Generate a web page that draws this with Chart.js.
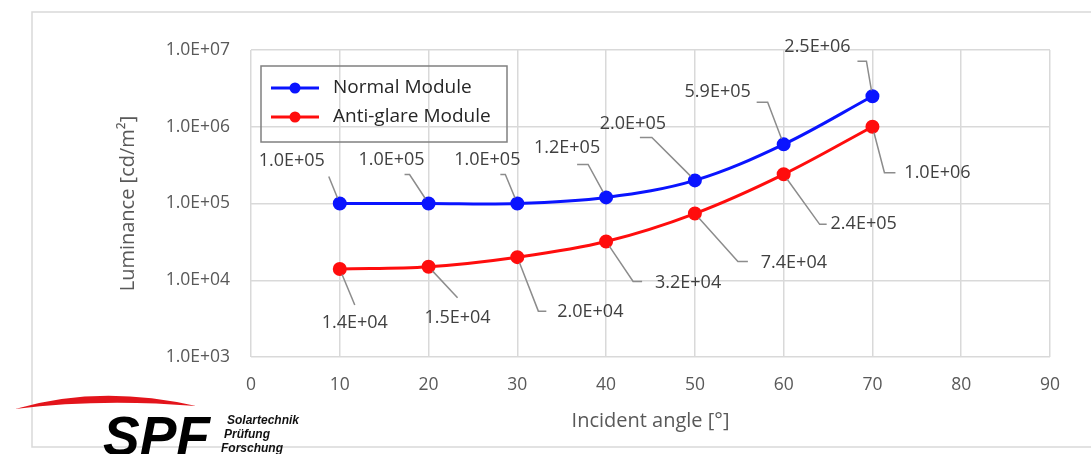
<!DOCTYPE html>
<html>
<head>
<meta charset="utf-8">
<script src="https://cdn.jsdelivr.net/npm/chart.js@4/dist/chart.umd.min.js"></script>
<style>
    body { margin: 0; background: #fff; }
    #box { width: 1091px; height: 454px; }
</style>
</head>
<body>
<div id="box"><canvas id="grafico" width="1091" height="454"></canvas></div>
<script>
// angoli e valori
var angoli = [10, 20, 30, 40, 50, 60, 70];
var normale = [1.0e5, 1.0e5, 1.0e5, 1.2e5, 2.0e5, 5.9e5, 2.5e6];
var antiglare = [1.4e4, 1.5e4, 2.0e4, 3.2e4, 7.4e4, 2.4e5, 1.0e6];
var tickY = [1e3, 1e4, 1e5, 1e6, 1e7];

// posizione delle etichette rispetto al punto: [dx testo, dy testo, x gomito, y gomito, coda]
var etichetteNormale = [
    [-48, -43, -11, -27, 0], [-37, -44, -19, -29, -5], [-30, -44, -12, -29, -5],
    [-39, -50, -18, -33, -11], [-62, -57, -43, -43, -12], [-66, -52, -16, -42, -11], [-55, -49, -6, -35, -9]
];
var etichetteAnti = [
    [15, 54, 15, 36, 0], [29, 51, 29, 31, 0], [73, 55, 21, 54, 8],
    [82, 41, 27, 40, 9], [99, 49, 43, 48, 10], [80, 50, 36, 50, 7], [65, 46, 12, 46, 11]
];

var grigio = '#595959';
var font = '"Open Sans", sans-serif';

function formatta(v) {
    return v.toExponential(1).toUpperCase().replace(/E([+-])(\d)$/, 'E$10$2');
}

function punti(valori) {
    var out = [];
    for (var i = 0; i < angoli.length; i++) {
        out.push({ x: angoli[i], y: valori[i] });
    }
    return out;
}

var etichette = {
    id: 'etichette',
    beforeDraw: function (chart) {
        var c = chart.ctx;
        c.save();
        c.fillStyle = '#fff';
        c.fillRect(0, 0, chart.width, chart.height);
        c.strokeStyle = '#d9d9d9';
        c.lineWidth = 1.5;
        c.strokeRect(32, 12, 1080, 435);
        c.restore();
    },
    afterDatasetsDraw: function (chart) {
        var c = chart.ctx;
        var serie = [etichetteNormale, etichetteAnti];
        c.save();
        for (var d = 0; d < 2; d++) {
            var meta = chart.getDatasetMeta(d);
            var valori = chart.data.datasets[d].data;
            for (var i = 0; i < meta.data.length; i++) {
                var p = meta.data[i];
                var e = serie[d][i];
                var gx = p.x + e[2], gy = p.y + e[3];
                var ang = Math.atan2(gy - p.y, gx - p.x);
                c.strokeStyle = '#8c8c8c';
                c.lineWidth = 1.5;
                c.beginPath();
                c.moveTo(p.x + Math.cos(ang) * 6, p.y + Math.sin(ang) * 6);
                c.lineTo(gx, gy);
                c.lineTo(gx + e[4], gy);
                c.stroke();
                c.fillStyle = '#404040';
                c.font = '18px ' + font;
                c.textAlign = 'center';
                c.textBaseline = 'middle';
                c.fillText(formatta(valori[i].y), p.x + e[0], p.y + e[1]);
            }
        }

        // legenda
        c.strokeStyle = '#808080';
        c.lineWidth = 1.5;
        c.strokeRect(261, 66, 246, 76);
        for (var k = 0; k < 2; k++) {
            var ds = chart.data.datasets[k];
            var y = 88 + k * 29;
            c.strokeStyle = ds.borderColor;
            c.lineWidth = 3;
            c.beginPath();
            c.moveTo(271, y);
            c.lineTo(319, y);
            c.stroke();
            c.fillStyle = ds.borderColor;
            c.beginPath();
            c.arc(295, y, 5.5, 0, Math.PI * 2);
            c.fill();
            c.fillStyle = '#262626';
            c.font = '19px ' + font;
            c.textAlign = 'left';
            c.textBaseline = 'middle';
            c.fillText(ds.label, 333, y);
        }

        // logo SPF
        c.fillStyle = '#e3141b';
        c.beginPath();
        c.moveTo(15, 409);
        c.quadraticCurveTo(100, 384, 196, 406);
        c.quadraticCurveTo(100, 398, 15, 409);
        c.fill();
        c.fillStyle = '#000';
        c.font = 'italic bold 55px "Liberation Sans", Arial, sans-serif';
        c.textAlign = 'left';
        c.textBaseline = 'alphabetic';
        c.fillText('SPF', 103, 455);
        c.fillStyle = '#111';
        c.font = 'italic bold 12px "Liberation Sans", Arial, sans-serif';
        c.fillText('Solartechnik', 227, 424);
        c.fillText('Prüfung', 224, 438);
        c.fillText('Forschung', 221, 452);
        c.restore();
    }
};

var ctx = document.getElementById('grafico');
var chart = new Chart(ctx, {
    type: 'line',
    data: {
        datasets: [{
            label: 'Normal Module',
            data: punti(normale),
            borderColor: '#0a14ff',
            backgroundColor: '#0a14ff',
            borderWidth: 3,
            pointRadius: 5.5,
            tension: 0.35
        }, {
            label: 'Anti-glare Module',
            data: punti(antiglare),
            borderColor: '#ff0d0d',
            backgroundColor: '#ff0d0d',
            borderWidth: 3,
            pointRadius: 5.5,
            tension: 0.35
        }]
    },
    options: {
        responsive: false,
        animation: false,
        layout: { padding: { left: 0, top: 50, right: 41, bottom: 0 } },
        plugins: {
            legend: { display: false },
            tooltip: { enabled: false }
        },
        scales: {
            x: {
                type: 'linear',
                min: 0,
                max: 90,
                ticks: { stepSize: 10, padding: 18, color: grigio, font: { family: font, size: 17.5 } },
                grid: { color: '#d9d9d9', lineWidth: 1.5, drawTicks: false },
                border: { display: false },
                title: {
                    display: true,
                    text: 'Incident angle [°]',
                    color: grigio,
                    font: { family: font, size: 20 },
                    padding: { top: 0, bottom: 21 }
                },
                afterFit: function (s) { s.height = 97; }
            },
            y: {
                type: 'logarithmic',
                min: 1e3,
                max: 1e7,
                afterBuildTicks: function (s) {
                    s.ticks = tickY.map(function (v) { return { value: v }; });
                },
                ticks: {
                    padding: 21,
                    color: grigio,
                    font: { family: font, size: 17.5 },
                    callback: function (v) { return formatta(v); }
                },
                grid: { color: '#d9d9d9', lineWidth: 1.5, drawTicks: false },
                border: { display: false },
                title: {
                    display: true,
                    text: 'Luminance [cd/m²]',
                    color: grigio,
                    font: { family: font, size: 20 },
                    padding: { top: 116, bottom: 0 }
                },
                afterFit: function (s) { s.width = 251; }
            }
        }
    },
    plugins: [etichette]
});
</script>
</body>
</html>
